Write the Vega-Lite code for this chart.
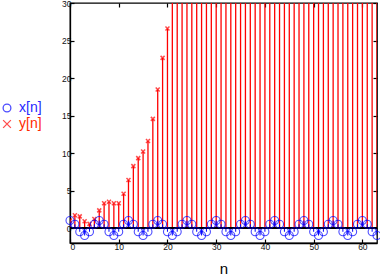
{
  "$schema": "https://vega.github.io/schema/vega-lite/v6.json",
  "autosize": "none",
  "width": 307,
  "height": 240,
  "padding": {"left": 70, "top": 3, "right": 3, "bottom": 34},
  "background": "white",
  "data": {"values": [
    {"n":0,"x":1,"y":1.0},{"n":1,"x":0.5,"y":1.7},{"n":2,"x":-0.5,"y":1.55},{"n":3,"x":-1,"y":0.9},
    {"n":4,"x":-0.5,"y":0.55},{"n":5,"x":0.5,"y":1.2},{"n":6,"x":1,"y":2.35},{"n":7,"x":0.5,"y":3.3},
    {"n":8,"x":-0.5,"y":3.5},{"n":9,"x":-1,"y":3.3},{"n":10,"x":-0.5,"y":3.3},{"n":11,"x":0.5,"y":4.57},
    {"n":12,"x":1,"y":6.39},{"n":13,"x":0.5,"y":8.25},{"n":14,"x":-0.5,"y":9.32},{"n":15,"x":-1,"y":10.2},
    {"n":16,"x":-0.5,"y":11.6},{"n":17,"x":0.5,"y":14.55},{"n":18,"x":1,"y":18.46},{"n":19,"x":0.5,"y":22.68},
    {"n":20,"x":-0.5,"y":26.6},{"n":21,"x":-1,"y":31.1},{"n":22,"x":-0.5,"y":36.4},{"n":23,"x":0.5,"y":42.6},
    {"n":24,"x":1,"y":49.8},{"n":25,"x":0.5,"y":58.3},{"n":26,"x":-0.5,"y":68.2},{"n":27,"x":-1,"y":79.8},
    {"n":28,"x":-0.5,"y":93.4},{"n":29,"x":0.5,"y":109},{"n":30,"x":1,"y":128},{"n":31,"x":0.5,"y":150},
    {"n":32,"x":-0.5,"y":175},{"n":33,"x":-1,"y":205},{"n":34,"x":-0.5,"y":240},{"n":35,"x":0.5,"y":281},
    {"n":36,"x":1,"y":328},{"n":37,"x":0.5,"y":384},{"n":38,"x":-0.5,"y":449},{"n":39,"x":-1,"y":526},
    {"n":40,"x":-0.5,"y":615},{"n":41,"x":0.5,"y":720},{"n":42,"x":1,"y":842},{"n":43,"x":0.5,"y":985},
    {"n":44,"x":-0.5,"y":1152},{"n":45,"x":-1,"y":1348},{"n":46,"x":-0.5,"y":1577},{"n":47,"x":0.5,"y":1846},
    {"n":48,"x":1,"y":2159},{"n":49,"x":0.5,"y":2526},{"n":50,"x":-0.5,"y":2956},{"n":51,"x":-1,"y":3458},
    {"n":52,"x":-0.5,"y":4046},{"n":53,"x":0.5,"y":4734},{"n":54,"x":1,"y":5539},{"n":55,"x":0.5,"y":6480},
    {"n":56,"x":-0.5,"y":7582},{"n":57,"x":-1,"y":8871},{"n":58,"x":-0.5,"y":10379},{"n":59,"x":0.5,"y":12143},
    {"n":60,"x":1,"y":14208},{"n":61,"x":0.5,"y":16623},{"n":62,"x":-0.5,"y":19449},{"n":63,"x":-1,"y":22756}
  ]},
  "layer": [
    {
      "mark": {"type": "rule", "color": "#ff0000", "strokeWidth": 1.3, "clip": true},
      "encoding": {
        "x": {"field": "n", "type": "quantitative", "scale": {"domain": [0, 63], "nice": false, "zero": false},
              "axis": {"orient": "bottom", "values": [0,10,20,30,40,50,60], "title": "n", "titleFontSize": 15, "titleFontWeight": "normal", "titleFont": "Liberation Sans", "titlePadding": 11, "labelPadding": 3}},
        "y": {"field": "y", "type": "quantitative", "scale": {"domain": [-2, 30], "nice": false, "zero": false},
              "axis": {"orient": "left", "values": [0,5,10,15,20,25,30], "title": null, "labelPadding": 3}},
        "y2": {"datum": 0}
      }
    },
    {
      "mark": {"type": "rule", "color": "#0000ff", "strokeWidth": 1, "clip": true},
      "encoding": {
        "x": {"field": "n", "type": "quantitative", "axis": {"orient": "top", "values": [0,10,20,30,40,50,60], "labels": false, "title": null, "domain": false}},
        "y": {"field": "x", "type": "quantitative", "axis": {"orient": "right", "values": [0,5,10,15,20,25,30], "labels": false, "title": null, "domain": false}},
        "y2": {"datum": 0}
      }
    },
    {
      "mark": {"type": "rule", "color": "black", "strokeWidth": 1.5},
      "encoding": {"y": {"datum": 0, "axis": null}}
    },
    {
      "mark": {"type": "point", "filled": false, "strokeWidth": 1.5, "size": 16, "clip": true},
      "encoding": {
        "x": {"field": "n", "type": "quantitative", "axis": null},
        "y": {"field": "y", "type": "quantitative", "axis": null},
        "color": {"datum": "y[n]", "scale": {"domain": ["x[n]", "y[n]"], "range": ["#0000ff", "#ff0000"]},
                  "legend": {"orient": "none", "legendX": -70, "legendY": 98, "title": null, "padding": 0, "labelFontSize": 14, "labelFont": "Liberation Sans", "labelOffset": 5, "rowPadding": 2, "symbolStrokeWidth": 1.3, "symbolSize": 60,
                             "labelColor": {"expr": "datum.label == 'x[n]' ? '#2828ff' : '#ff2a00'"}}},
        "shape": {"datum": "y[n]", "scale": {"domain": ["x[n]", "y[n]"], "range": ["circle", "M-1,-1L1,1M-1,1L1,-1"]}, "legend": null}
      }
    },
    {
      "mark": {"type": "point", "filled": false, "strokeWidth": 1.1, "size": 64, "clip": false},
      "encoding": {
        "x": {"field": "n", "type": "quantitative", "axis": null},
        "y": {"field": "x", "type": "quantitative", "axis": null},
        "color": {"datum": "x[n]"},
        "shape": {"datum": "x[n]"}
      }
    }
  ],
  "resolve": {"axis": {"x": "independent", "y": "independent"}},
  "config": {
    "view": {"stroke": "black", "strokeWidth": 1.3},
    "axis": {"grid": false, "domainColor": "black", "domainWidth": 1.3, "tickColor": "black", "tickWidth": 1.2, "tickSize": -4,
             "labelFont": "Liberation Sans", "labelFontSize": 8.5, "labelColor": "#111", "titleColor": "black"}
  }
}
